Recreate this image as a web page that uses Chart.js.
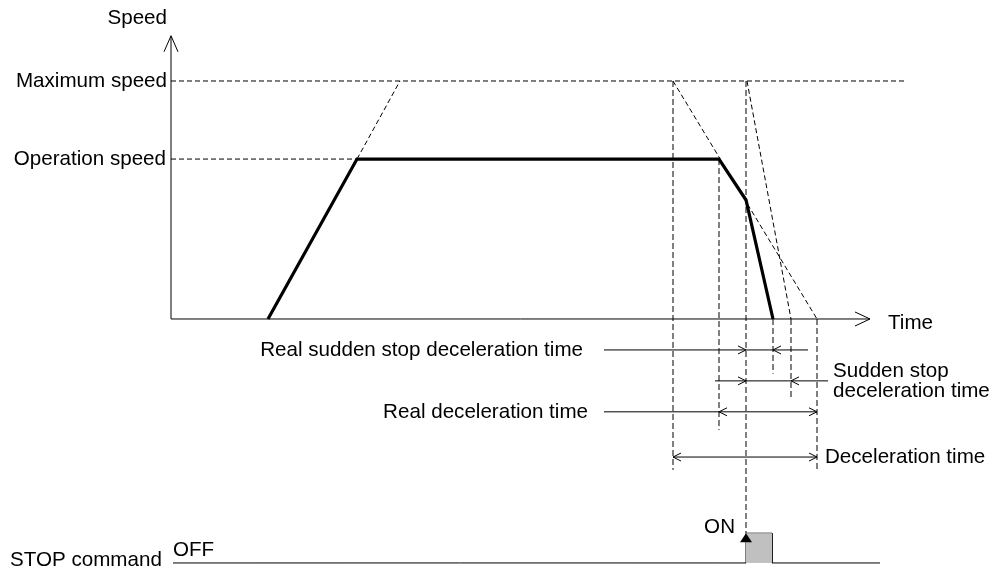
<!DOCTYPE html>
<html>
<head>
<meta charset="utf-8">
<script src="https://cdn.jsdelivr.net/npm/chart.js@4/dist/chart.umd.min.js"></script>
<style>
  body { margin: 0; background: #fff; }
  canvas { display: block; }
</style>
</head>
<body>
<canvas id="grafica" width="997" height="574"></canvas>
<script>
// tiempo en unidades arbitrarias, velocidad en % de la velocidad maxima
var ejeY = [[0, 0], [0, 119]];
var ejeX = [[0, 0], [69.9, 0]];

var perfilVelocidad = [[9.7, 0], [18.6, 67.2], [54.8, 67.2], [57.5, 50], [60.2, 0]];

var lineaMaxima = [[0, 100], [73.6, 100]];
var lineaOperacion = [[0, 67.2], [18.6, 67.2]];
var extensionAcel = [[18.6, 67.2], [22.9, 100]];
var rampaDecel = [[50.2, 100], [64.6, 0]];
var rampaParada = [[57.6, 100], [62, 0]];

var verticales = [
    [[50.2, 100], [50.2, -63.4]],
    [[54.8, 67.2], [54.8, -46.6]],
    [[57.5, 100], [57.5, -90]],
    [[60.2, 0], [60.2, -23]],
    [[62, 0], [62, -33]],
    [[64.6, 0], [64.6, -63.4]]
];

var cotas = [
    [[43.3, -13], [63.7, -13]],
    [[54.4, -26], [65.7, -26]],
    [[43.3, -39], [64.6, -39]],
    [[50.2, -58], [64.6, -58]]
];

// flechas abiertas: [t, v, direccion]
var flechas = [
    [57.5, -13, 'right'], [60.2, -13, 'left'],
    [57.5, -26, 'right'], [62, -26, 'left'],
    [54.8, -39, 'left'], [64.6, -39, 'right'],
    [50.2, -58, 'left'], [64.6, -58, 'right']
];

var senalStop = [[0.2, -102.5], [57.5, -102.5], [57.5, -90], [60.1, -90], [60.1, -102.5], [70.9, -102.5]];
var pulsoStop = [[57.5, -102.5], [57.5, -90], [60.1, -90], [60.1, -102.5]];
var flechaOn = [57.5, -90]; // punta de la flecha ON

var textos = [
    ['Speed', -0.4, 126.5, 'right'],
    ['Maximum speed', -0.4, 100, 'right'],
    ['Operation speed', -0.5, 67.2, 'right'],
    ['Time', 71.7, -1.7, 'left'],
    ['Real sudden stop deceleration time', 41.2, -13, 'right'],
    ['Sudden stop', 66.2, -21.8, 'left'],
    ['deceleration time', 66.2, -30.3, 'left'],
    ['Real deceleration time', 41.7, -39, 'right'],
    ['Deceleration time', 65.4, -58, 'left'],
    ['ON', 56.4, -87.4, 'right'],
    ['OFF', 0.2, -97, 'left'],
    ['STOP command', -16.1, -101.3, 'left']
];

var colorNegro = '#000';

function pares(arr) {
    return arr.map(function (p) { return { x: p[0], y: p[1] }; });
}

function linea(arr, ancho, guiones) {
    return {
        data: pares(arr),
        showLine: true,
        borderColor: colorNegro,
        borderWidth: ancho,
        borderDash: guiones || [],
        pointRadius: 0,
        fill: false,
        tension: 0
    };
}

var datasets = [];
datasets.push(Object.assign(linea(pulsoStop, 0), { backgroundColor: '#c0c0c0', fill: { value: -102.5 } }));
datasets.push(linea(lineaMaxima, 1, [5, 3]));
datasets.push(linea(lineaOperacion, 1, [5, 3]));
datasets.push(linea(extensionAcel, 1, [5, 3]));
datasets.push(linea(rampaDecel, 1, [5, 3]));
datasets.push(linea(rampaParada, 1, [5, 3]));
verticales.forEach(function (v) { datasets.push(linea(v, 1, [6, 3])); });
cotas.forEach(function (c) { datasets.push(linea(c, 1)); });
datasets.push(linea(ejeY, 1));
datasets.push(linea(ejeX, 1));
datasets.push(linea(senalStop, 1));
datasets.push(linea(perfilVelocidad, 3.2));

var pluginDibujo = {
    id: 'dibujo',
    afterDatasetsDraw: function (chart) {
        var ctx = chart.ctx;
        var sx = chart.scales.x, sy = chart.scales.y;
        ctx.save();
        ctx.strokeStyle = colorNegro;
        ctx.fillStyle = colorNegro;
        ctx.lineWidth = 1;
        // flechas de cota
        flechas.forEach(function (f) {
            var px = sx.getPixelForValue(f[0]);
            var py = sy.getPixelForValue(f[1]);
            var d = f[2] === 'right' ? -1 : 1;
            ctx.beginPath();
            ctx.moveTo(px + d * 8, py - 4);
            ctx.lineTo(px, py);
            ctx.lineTo(px + d * 8, py + 4);
            ctx.stroke();
        });
        // flechas de los ejes
        var ox = sx.getPixelForValue(ejeY[1][0]), oy = sy.getPixelForValue(ejeY[1][1]);
        ctx.beginPath();
        ctx.moveTo(ox - 7, oy + 16);
        ctx.lineTo(ox, oy);
        ctx.lineTo(ox + 7, oy + 16);
        ctx.stroke();
        var tx = sx.getPixelForValue(ejeX[1][0]), ty = sy.getPixelForValue(ejeX[1][1]);
        ctx.beginPath();
        ctx.moveTo(tx - 15, ty - 7);
        ctx.lineTo(tx, ty);
        ctx.lineTo(tx - 15, ty + 7);
        ctx.stroke();
        // flecha rellena de ON
        var ax = sx.getPixelForValue(flechaOn[0]), ay = sy.getPixelForValue(flechaOn[1]);
        ctx.beginPath();
        ctx.moveTo(ax, ay);
        ctx.lineTo(ax - 6, ay + 9);
        ctx.lineTo(ax + 6, ay + 9);
        ctx.closePath();
        ctx.fill();
        // textos
        ctx.font = '20.6px "Liberation Sans", Arial, sans-serif';
        ctx.textBaseline = 'middle';
        textos.forEach(function (t) {
            ctx.textAlign = t[3];
            ctx.fillText(t[0], sx.getPixelForValue(t[1]), sy.getPixelForValue(t[2]));
        });
        ctx.restore();
    }
};

var configuracion = {
    type: 'scatter',
    data: { datasets: datasets },
    options: {
        responsive: false,
        animation: false,
        layout: { padding: 0, autoPadding: false },
        clip: false,
        plugins: {
            legend: { display: false },
            tooltip: { enabled: false }
        },
        scales: {
            x: { type: 'linear', min: -17.1, max: 82.6, display: false },
            y: { type: 'linear', min: -107.14, max: 134.03, display: false }
        }
    },
    plugins: [pluginDibujo]
};

var grafica = new Chart(document.getElementById('grafica'), configuracion);
</script>
</body>
</html>
